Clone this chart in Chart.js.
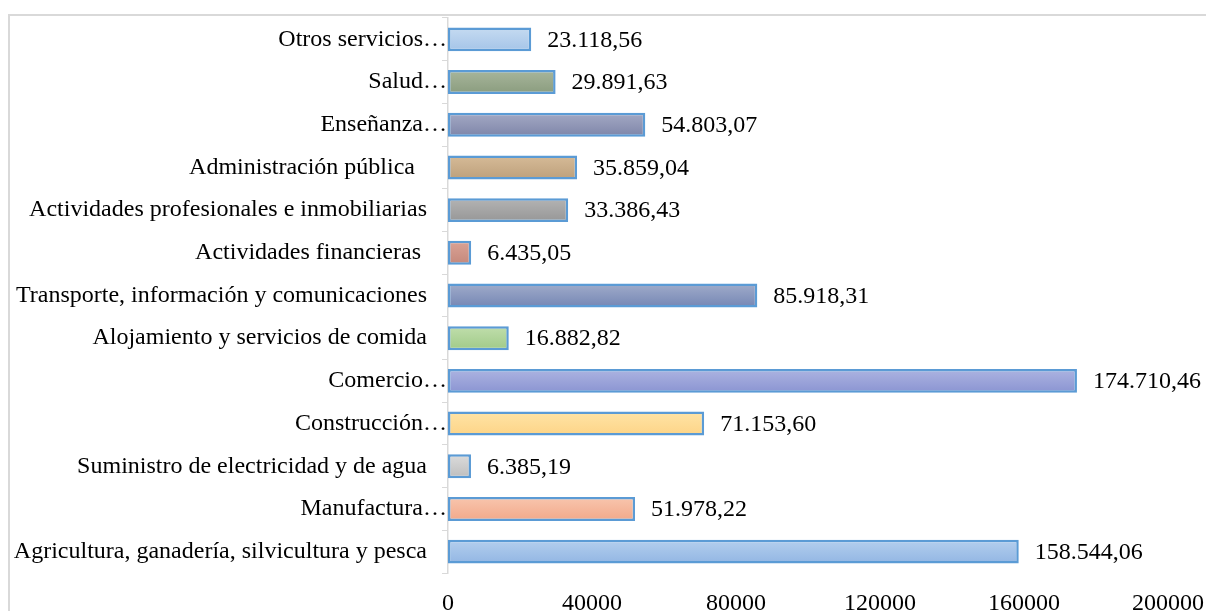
<!DOCTYPE html>
<html>
<head>
<meta charset="utf-8">
<script src="https://cdn.jsdelivr.net/npm/chart.js@4.4.1/dist/chart.umd.min.js"></script>
<style>
    html, body { margin: 0; padding: 0; background: #fff; }
    #wrap { position: relative; width: 1206px; height: 611px; overflow: hidden; }
    #frame { position: absolute; left: 8px; top: 14px; width: 1300px; height: 700px;
             border-left: 2px solid #D9D9D9; border-top: 2px solid #D9D9D9; }
    #chart { position: absolute; left: 0; top: 0; }
</style>
</head>
<body>
<div id="wrap">
    <div id="frame"></div>
    <canvas id="chart" width="1206" height="611"></canvas>
</div>
<script>
// Data, bottom to top as in the source sheet
const categories = [
    'Agricultura, ganadería, silvicultura y pesca   \u200A',
    'Manufactura…',
    'Suministro de electricidad y de agua   \u200A',
    'Construcción…',
    'Comercio…',
    'Alojamiento y servicios de comida   \u200A',
    'Transporte, información y comunicaciones   \u200A',
    'Actividades financieras    \u200A',
    'Actividades profesionales e inmobiliarias   \u200A',
    'Administración pública     \u200A',
    'Enseñanza…',
    'Salud…',
    'Otros servicios…'
];
const values = [158544.06, 51978.22, 6385.19, 71153.60, 174710.46, 16882.82, 85918.31,
                6435.05, 33386.43, 35859.04, 54803.07, 29891.63, 23118.56];
const xTicks = [0, 40000, 80000, 120000, 160000, 200000];

// gradient colours per bar (top, bottom)
const fillTop = ['#B4CFEE', '#F8C6AE', '#DCDCDC', '#FFE4A6', '#ADB4E1', '#C0DEAC', '#A0ACCA',
                 '#DBA396', '#B4B4B4', '#D6BB98', '#A4A9C4', '#A8B69C', '#C6DBF1'];
const fillBottom = ['#92B6E3', '#F2A889', '#BDBDBD', '#FDD487', '#8A94D2', '#A0CA88', '#7586B4',
                    '#C4887B', '#969696', '#BDA07B', '#7E85A9', '#8A9C7E', '#A4C4E8'];

const FONT = '"Liberation Serif", "Times New Roman", serif';

function formatEs(v) {
    const parts = v.toFixed(2).split('.');
    return parts[0].replace(/\B(?=(\d{3})+(?!\d))/g, '.') + ',' + parts[1];
}

const valueLabels = {
    id: 'valueLabels',
    afterDatasetsDraw(chart) {
        const ctx = chart.ctx;
        const meta = chart.getDatasetMeta(0);
        ctx.save();
        ctx.font = '24px ' + FONT;
        ctx.fillStyle = '#000';
        ctx.textAlign = 'left';
        ctx.textBaseline = 'middle';
        meta.data.forEach((bar, i) => {
            ctx.fillText(formatEs(values[i]), bar.x + 16, bar.y + 1);
        });
        ctx.restore();
    }
};

function barFill(c) {
    const chart = c.chart;
    const i = c.dataIndex;
    const y = chart.scales.y;
    if (!chart.chartArea || !y || y.getPixelForValue(i) == null) return fillBottom[i];
    const yc = y.getPixelForValue(i);
    const g = chart.ctx.createLinearGradient(0, yc - 12, 0, yc + 12);
    g.addColorStop(0, fillTop[i]);
    g.addColorStop(1, fillBottom[i]);
    return g;
}

new Chart(document.getElementById('chart'), {
    type: 'bar',
    data: {
        labels: categories,
        datasets: [{
            data: values,
            backgroundColor: barFill,
            borderColor: '#5B9BD5',
            borderWidth: 2.5,
            borderSkipped: false,
            barPercentage: 0.56,
            categoryPercentage: 1
        }]
    },
    options: {
        indexAxis: 'y',
        responsive: false,
        animation: false,
        layout: { padding: { left: 0, top: 18, right: 38, bottom: 0 } },
        plugins: { legend: { display: false }, tooltip: { enabled: false } },
        scales: {
            y: {
                reverse: true,
                afterFit: s => { s.width = 448; s.paddingTop = 0; s.paddingBottom = 0; },
                border: { display: true, color: '#D9D9D9', width: 1.5 },
                grid: { display: true, drawOnChartArea: false, offset: true, color: '#D9D9D9', tickLength: 6 },
                ticks: { color: '#000', padding: -5, font: { family: FONT, size: 24 } }
            },
            x: {
                min: 0,
                max: 200000,
                afterFit: s => { s.height = 38; s.paddingLeft = 0; s.paddingRight = 0; },
                afterBuildTicks: s => { s.ticks = xTicks.map(v => ({ value: v })); },
                border: { display: false },
                grid: { display: false, drawTicks: false },
                ticks: {
                    color: '#000', padding: 16, maxRotation: 0,
                    font: { family: FONT, size: 24 },
                    callback: v => String(v)
                }
            }
        }
    },
    plugins: [valueLabels]
});
</script>
</body>
</html>
